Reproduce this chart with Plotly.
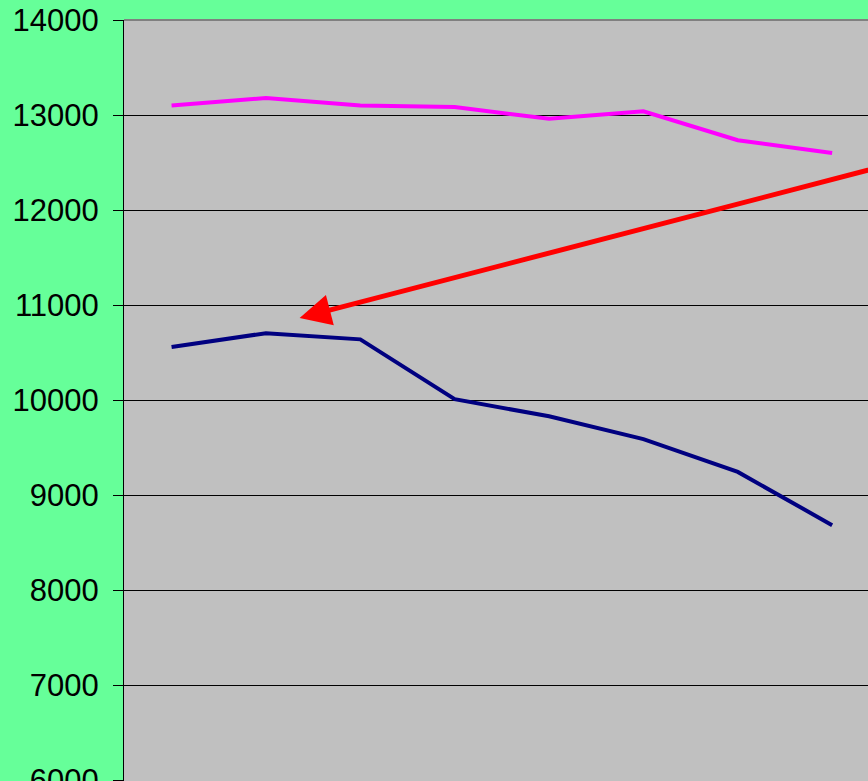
import plotly.graph_objects as go

# category positions (no visible category labels in the picture)
periods = [0, 1, 2, 3, 4, 5, 6, 7]
magenta_values = [13100, 13180, 13100, 13085, 12960, 13040, 12735, 12600]
navy_values = [10560, 10705, 10640, 10010, 9830, 9590, 9245, 8685]
y_ticks = [6000, 7000, 8000, 9000, 10000, 11000, 12000, 13000, 14000]

# red arrow: head and tail in data units
arrow_head = (1.357, 10865)
arrow_tail = (8.0, 12580)

fig = go.Figure()

fig.add_trace(
    go.Scatter(x=periods, y=magenta_values, mode="lines",
               line=dict(color="#FF00FF", width=4), name="top")
)
fig.add_trace(
    go.Scatter(x=periods, y=navy_values, mode="lines",
               line=dict(color="#000080", width=4), name="bottom")
)

fig.add_annotation(
    x=arrow_head[0], y=arrow_head[1],
    ax=arrow_tail[0], ay=arrow_tail[1],
    xref="x", yref="y", axref="x", ayref="y",
    text="", showarrow=True,
    arrowhead=2, arrowsize=1.25, arrowwidth=5, arrowcolor="#FF0000",
    standoff=0,
)

# grey border at the top of the plot area
fig.add_shape(type="line", xref="paper", yref="paper", x0=0, x1=1, y0=1, y1=1,
              line=dict(color="#808080", width=2))

fig.update_xaxes(range=[-0.504, 7.38], showticklabels=False, showgrid=False,
                 zeroline=False, ticks="", automargin=False)
fig.update_yaxes(
    range=[5993, 14000], tickvals=y_ticks, ticktext=[str(v) for v in y_ticks],
    showgrid=True, gridcolor="black", gridwidth=1, zeroline=False,
    showline=True, linecolor="black", linewidth=1,
    ticks="outside", ticklen=10, tickcolor="black", tickwidth=1,
    ticklabelstandoff=8, ticklabeloverflow="allow", automargin=False,
    tickfont=dict(family="Liberation Sans, Arial", size=31, color="black"),
)

fig.update_layout(
    width=868, height=781,
    paper_bgcolor="#66FF99", plot_bgcolor="#C0C0C0",
    margin=dict(l=124, r=0, t=20, b=0),
    showlegend=False,
)

# the page body has a default 8px margin; drop it so the chart fills the window
fig.write_html(
    "out.html",
    config={"displayModeBar": False},
    post_script="document.body.style.margin='0';document.body.style.overflow='hidden';",
)
